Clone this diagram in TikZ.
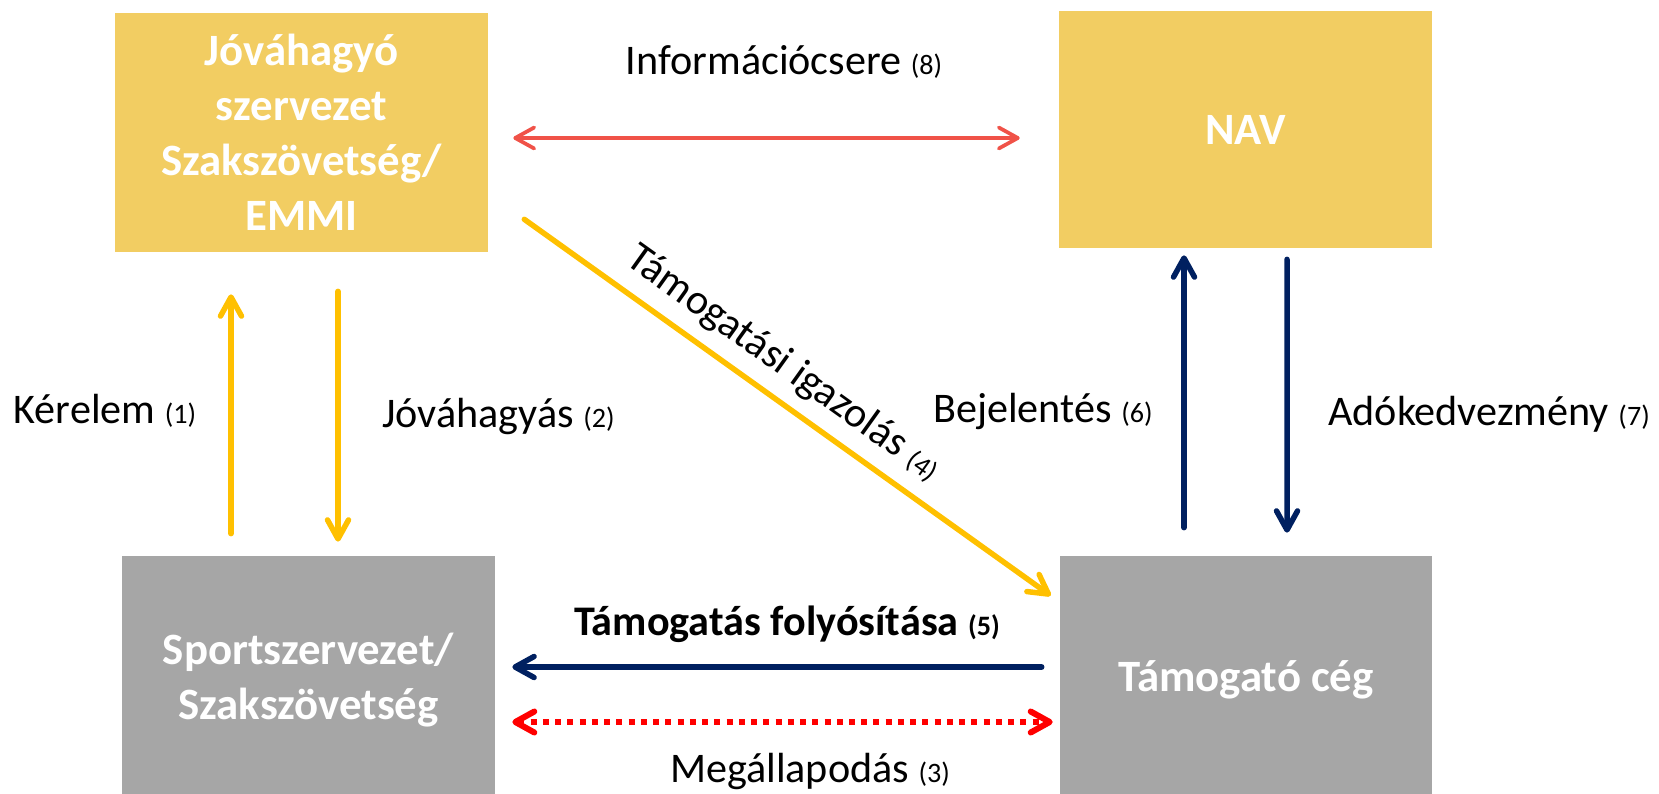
\documentclass[tikz,border=0pt]{standalone}
\usepackage{fontspec}
\setmainfont{Carlito}
\usetikzlibrary{arrows.meta,calc}

\definecolor{boxyellow}{RGB}{242,205,98}
\definecolor{boxgrey}{RGB}{166,166,166}
\definecolor{arryellow}{RGB}{255,192,0}
\definecolor{arrnavy}{RGB}{0,32,96}
\definecolor{arrred}{RGB}{240,82,72}
\definecolor{dotred}{RGB}{255,0,0}

% kis számok a feliratok végén
\newcommand{\nr}[1]{{\fontsize{16}{19}\selectfont #1}}

\tikzset{
  box/.style={fill=#1, text=white, align=center, inner sep=0pt,
    minimum width=7.46cm, minimum height=4.96cm,
    font=\fontsize{25.5}{31.3}\selectfont\bfseries},
  lbl/.style={anchor=base, inner sep=0pt, font=\fontsize{24}{29}\selectfont},
  arr/.style={line width=0.11cm, line cap=round},
  >={Straight Barb[length=0.38cm,width=0.42cm,round]},
}

\begin{document}
\begin{tikzpicture}[x=0.02cm,y=-0.02cm]
\clip (0,0) rectangle (1659,794);
% dobozok
\node[box=boxyellow, minimum height=4.78cm] (jova) at (301.5,132.5) {Jóváhagyó\\szervezet\\Szakszövetség/\\EMMI};
\node[box=boxyellow, minimum height=4.74cm] (nav) at (1245.5,129.5) {NAV};
\node[box=boxgrey] (sport) at (308.5,680) {Sportszervezet/\\Szakszövetség};
\node[box=boxgrey, minimum width=7.44cm] (tamog) at (1246,680) {Támogató cég};
% kérelem, jóváhagyás
\draw[arr,arryellow,->] ($(sport.north)+(-77.5,-22)$) -- ($(jova.south)+(-70.5,42)$);
\draw[arr,arryellow,->] ($(jova.south)+(36.5,39)$) -- ($(sport.north)+(29.5,-14)$);
\node[lbl] (l1) at (105,423) {Kérelem \nr{(1)}};
\node[lbl] (l2) at (498.5,427) {Jóváhagyás \nr{(2)}};
% támogatási igazolás
\draw[arr,arryellow,->] ($(jova.south east)+(36,-33)$) -- ($(tamog.north west)+(-9,40)$);
\node[lbl, rotate=-35.6] (l4) at (777,373) {Támogatási igazolás \nr{(4)}};
% NAV felé és vissza
\draw[arr,arrnavy,->] ($(tamog.north)+(-62,-28)$) -- ($(nav.south)+(-61.5,7)$);
\draw[arr,arrnavy,->] ($(nav.south)+(41.5,11)$) -- ($(tamog.north)+(41,-23)$);
\node[lbl] (l6) at (1043,422) {Bejelentés \nr{(6)}};
\node[lbl] (l7) at (1489,425) {Adókedvezmény \nr{(7)}};
% információcsere
\draw[arr,arrred,line width=0.075cm,<->] ($(jova.east)+(25,5.5)$) -- ($(nav.west)+(-39,8.5)$);
\node[lbl] (l8) at (784,75) {Információcsere \nr{(8)}};
% folyósítás, megállapodás
\draw[arr,arrnavy,->] ($(tamog.west)+(-18,-13)$) -- ($(sport.east)+(17,-13)$);
\node[lbl, font=\fontsize{24}{29}\selectfont\bfseries] (l5) at (787,635) {Támogatás folyósítása \nr{(5)}};
\draw[arr,dotred,line width=0.12cm,line cap=butt,dash pattern=on 0.12cm off 0.125cm,<->] ($(sport.east)+(17,42)$) -- ($(tamog.west)+(-7,42)$);
\node[lbl] (l3) at (810,782) {Megállapodás \nr{(3)}};
\end{tikzpicture}
\end{document}
